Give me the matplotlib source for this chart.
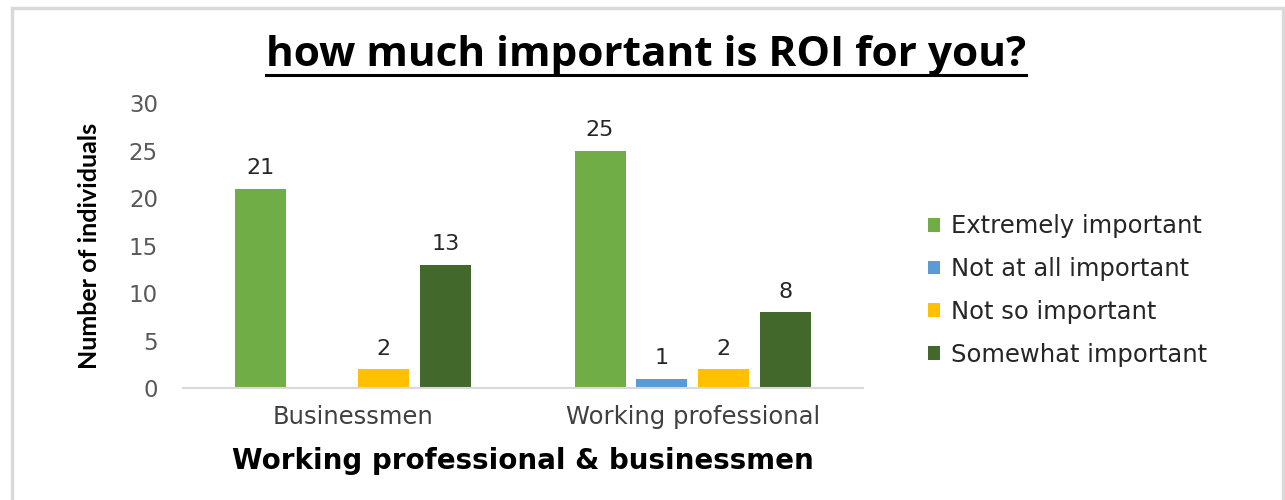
import matplotlib.pyplot as plt
from matplotlib.patches import Rectangle
from matplotlib.lines import Line2D

groups = ["Businessmen", "Working professional"]
responses = ["Extremely important", "Not at all important",
             "Not so important", "Somewhat important"]
counts = [
    [21, 25],   # Extremely important
    [0, 1],     # Not at all important
    [2, 2],     # Not so important
    [13, 8],    # Somewhat important
]
colors = ["#70AD47", "#5B9BD5", "#FFC000", "#43682B"]

fig = plt.figure(figsize=(12.85, 5), dpi=100)
ax = fig.add_axes([0.1424, 0.224, 0.529, 0.570])

slot = 0.182
width = 0.15
for i, (resp, vals) in enumerate(zip(responses, counts)):
    xs = [g + (i - 1.5) * slot for g in range(len(groups))]
    ax.bar(xs, vals, width, color=colors[i], label=resp)
    for x, v in zip(xs, vals):
        if v > 0:
            ax.text(x, v + 1.1, str(v), ha="center", va="bottom",
                    fontsize=16, color="#262626")

ax.set_xlim(-0.5, 1.5)
ax.set_ylim(0, 30)
ax.set_yticks(range(0, 31, 5))
ax.set_xticks(range(len(groups)))
ax.set_xticklabels(groups, fontsize=17.5, color="#404040")
ax.tick_params(axis="y", labelsize=16.5, labelcolor="#595959", length=0, pad=18)
ax.tick_params(axis="x", length=0, pad=12)
for s in ["top", "right", "left"]:
    ax.spines[s].set_visible(False)
ax.spines["bottom"].set_color("#D9D9D9")
ax.spines["bottom"].set_linewidth(1.5)

ax.set_ylabel("Number of individuals", fontsize=18, fontweight="bold",
              family="Lato", labelpad=20)
ax.set_xlabel("Working professional & businessmen", fontsize=20,
              fontweight="bold", labelpad=13)

leg = fig.legend(loc="upper left", bbox_to_anchor=(0.705, 0.615), frameon=False,
                 fontsize=17.5, handlelength=0.5, handleheight=0.5,
                 handletextpad=0.45, labelspacing=0.77)
for t in leg.get_texts():
    t.set_color("#262626")

title = fig.text(0.503, 0.888, "how much important is ROI for you?",
                 ha="center", va="center", fontsize=30.5, fontweight="bold",
                 family="Open Sans")

# underline the title
fig.canvas.draw()
bb = title.get_window_extent().transformed(fig.transFigure.inverted())
fig.add_artist(Line2D([bb.x0, bb.x1], [bb.y0 + 0.004, bb.y0 + 0.004],
                      transform=fig.transFigure, color="black", lw=2.2))

# chart border
fig.add_artist(Rectangle((12 / 1285, -0.05), 1271 / 1285, 1.034,
                         transform=fig.transFigure, fill=False,
                         edgecolor="#D9D9D9", lw=2.5))

fig.savefig("out.png", dpi=100)
